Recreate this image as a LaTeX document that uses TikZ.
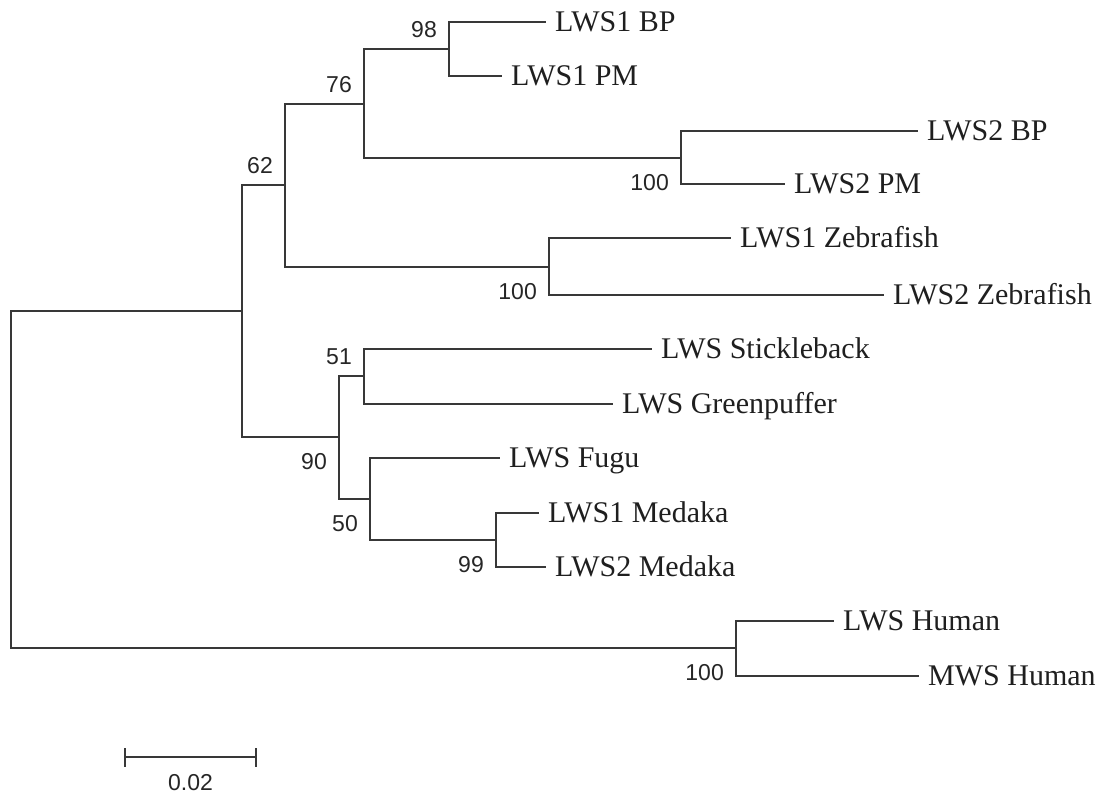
\documentclass[tikz,border=0pt]{standalone}
\usepackage{fontspec}
\setmainfont{Liberation Serif}
\setsansfont{Liberation Sans}
\tikzset{
    ramo/.style={line width=1.9pt, draw=black!78},
    foglia/.style={anchor=west, inner xsep=9pt, inner ysep=0pt, text height=19pt, text depth=0pt,
        text=black!88, font=\fontsize{30}{31}\selectfont},
    bsnum/.style={inner sep=0pt, text=black!85, font=\sffamily\fontsize{23}{24}\selectfont},
    bsup/.style={bsnum, anchor=south east, xshift=-12pt, yshift=11pt},
    bsgiu/.style={bsnum, anchor=north east, xshift=-12pt, yshift=-16pt}
}

\begin{document}
\begin{tikzpicture}[x=1pt, y=-1pt]
    % Bordi della figura
    \useasboundingbox (0,0) rectangle (1102,796);

    % Nodi interni
    \coordinate (R) at (11,480);
    \coordinate (A) at (242,311);
    \coordinate (B) at (285,185);
    \coordinate (C) at (364,104);
    \coordinate (D) at (449,49);
    \coordinate (E) at (681,158);
    \coordinate (F) at (549,267);
    \coordinate (G) at (339,437);
    \coordinate (H) at (364,376);
    \coordinate (I) at (370,499);
    \coordinate (J) at (496,540);
    \coordinate (K) at (736,648);

    % Rami interni
    \foreach \p/\f in {R/A, R/K, A/B, A/G, B/C, B/F, C/D, C/E, G/H, G/I, I/J}{
        \draw[ramo] (\p) |- (\f);
    }

    % Foglie
    \foreach \p/\f/\x/\y/\t in {D/bpA/546/22/LWS1 BP, D/pmA/502/76/LWS1 PM,
        E/bpB/918/131/LWS2 BP, E/pmB/785/184/LWS2 PM,
        F/zfA/731/238/LWS1 Zebrafish, F/zfB/884/295/LWS2 Zebrafish,
        H/stick/652/349/LWS Stickleback, H/green/613/404/LWS Greenpuffer,
        I/fugu/500/458/LWS Fugu,
        J/medA/539/513/LWS1 Medaka, J/medB/546/567/LWS2 Medaka,
        K/humL/834/621/LWS Human, K/humM/919/676/MWS Human}{
        \node[foglia] (\f) at (\x,\y) {\t};
        \draw[ramo] (\p) |- (\f.west);
    }

    % Valori di bootstrap
    \foreach \n/\v in {D/98, C/76, B/62, H/51}{
        \node[bsup] (bs\n) at (\n) {\v};
    }
    \foreach \n/\v in {E/100, F/100, G/90, I/50, J/99, K/100}{
        \node[bsgiu] (bs\n) at (\n) {\v};
    }

    % Barra di scala
    \coordinate (s0) at (125,757);
    \coordinate (s1) at (256,757);
    \draw[ramo] (s0) -- node[bsnum, anchor=north, yshift=-16pt] (scala) {0.02} (s1);
    \draw[ramo] ([yshift=9pt]s0) -- ([yshift=-10pt]s0);
    \draw[ramo] ([yshift=9pt]s1) -- ([yshift=-10pt]s1);
\end{tikzpicture}
\end{document}
